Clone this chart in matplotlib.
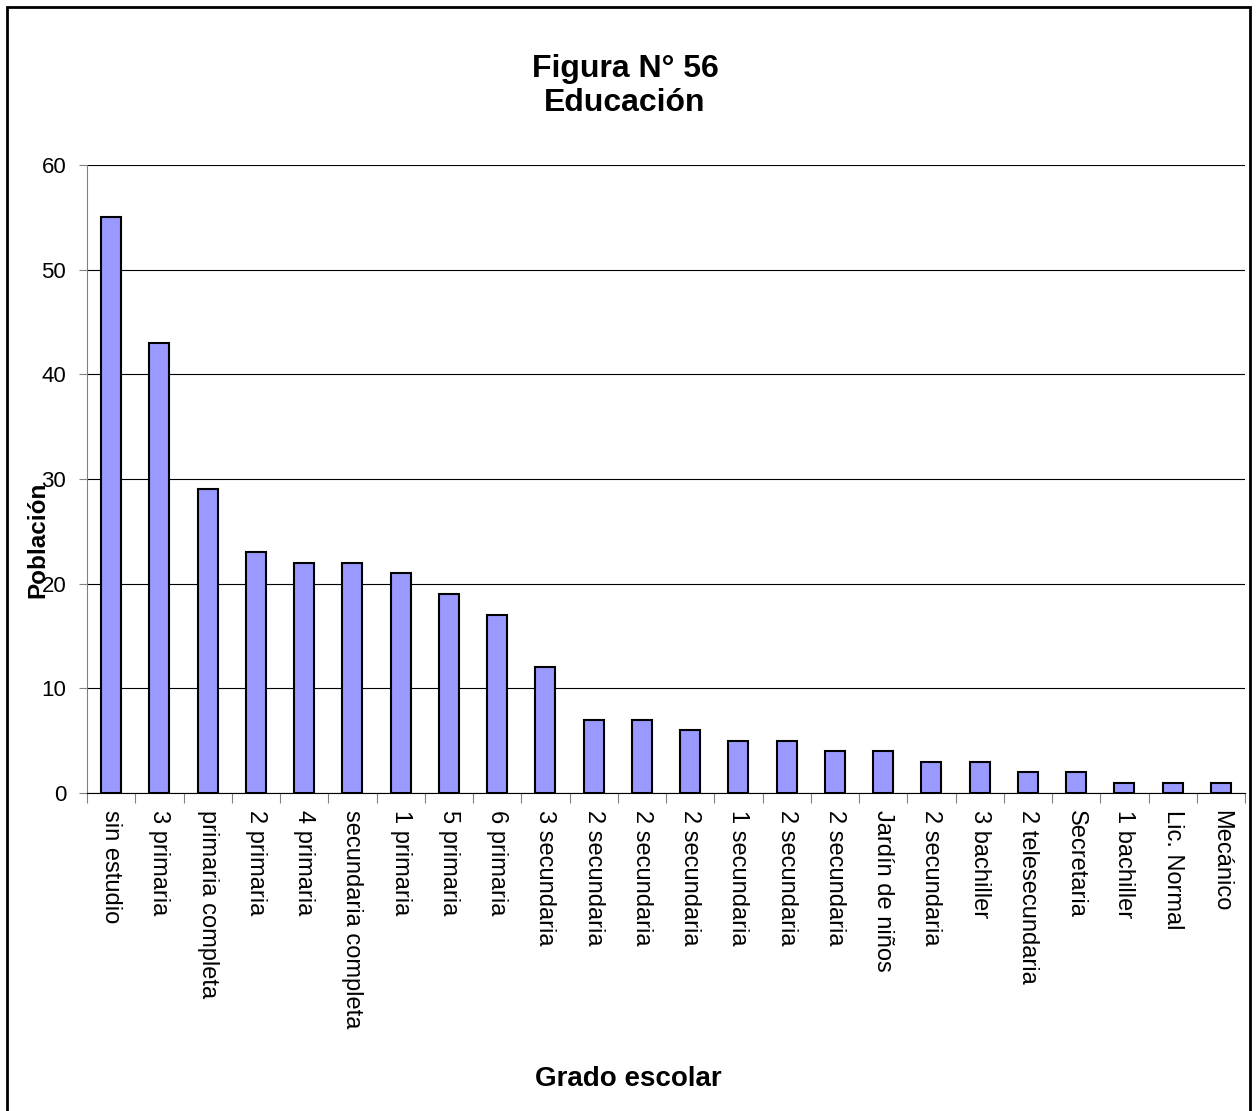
import matplotlib.pyplot as plt
from matplotlib.patches import Rectangle

plt.rcParams['font.family'] = ['Liberation Sans', 'DejaVu Sans']

# Datos
categorias = ["sin estudio", "3 primaria", "primaria completa", "2 primaria", "4 primaria",
              "secundaria completa", "1 primaria", "5 primaria", "6 primaria", "3 secundaria",
              "2 secundaria", "2 secundaria", "2 secundaria", "1 secundaria", "2 secundaria",
              "2 secundaria", "Jardín de niños", "2 secundaria", "3 bachiller", "2 telesecundaria",
              "Secretaria", "1 bachiller", "Lic. Normal", "Mecánico"]
poblacion = [55, 43, 29, 23, 22, 22, 21, 19, 17, 12, 7, 7, 6, 5, 5, 4, 4, 3, 3, 2, 2, 1, 1, 1]
y_ticks = [0, 10, 20, 30, 40, 50, 60]

W, H = 1256, 1111
fig = plt.figure(figsize=(W / 100, H / 100), dpi=100)

# borde exterior del gráfico
fig.patches.append(Rectangle((7 / W, -0.01), (1250 - 7) / W, 1.01 - 7 / H,
                             transform=fig.transFigure, fill=False,
                             edgecolor='black', linewidth=2))

ax = fig.add_axes([87 / W, 1 - 793 / H, (1245 - 87) / W, (793 - 165) / H])

x = range(len(categorias))
ax.bar(x, poblacion, width=0.41, color='#9999FF', edgecolor='black', linewidth=1.5, zorder=3)

ax.set_xlim(-0.5, len(categorias) - 0.5)
ax.set_ylim(0, 60)
ax.set_yticks(y_ticks)
ax.yaxis.grid(True, color='black', linewidth=0.8, zorder=0)

# ticks del eje x en los limites de categoria
ax.set_xticks([i - 0.5 for i in range(len(categorias) + 1)], minor=False)
ax.set_xticklabels([])
ax.set_xticks(list(x), minor=True)
ax.set_xticklabels(categorias, minor=True, rotation=270, fontsize=17,
                   va='top', ha='center')
ax.tick_params(axis='x', which='minor', length=0, pad=12)
ax.tick_params(axis='x', which='major', length=7, direction='out', color='#808080')
ax.tick_params(axis='y', length=6, direction='out', labelsize=16, color='#808080', pad=9)

for s in ['top', 'right']:
    ax.spines[s].set_visible(False)
ax.spines['left'].set_color('#808080')
ax.spines['bottom'].set_color('black')

fig.text(625 / W, 1 - 86 / H, "Figura N° 56\nEducación", ha='center', va='center',
         fontsize=23, fontweight='bold', linespacing=1.2)
fig.text(628 / W, 1 - 1079 / H, "Grado escolar", ha='center', va='center',
         fontsize=20, fontweight='bold')
fig.text(38 / W, 1 - 540 / H, "Población", ha='center', va='center', rotation=90,
         fontsize=17.5, fontweight='bold')

fig.savefig("out.png", dpi=100)
